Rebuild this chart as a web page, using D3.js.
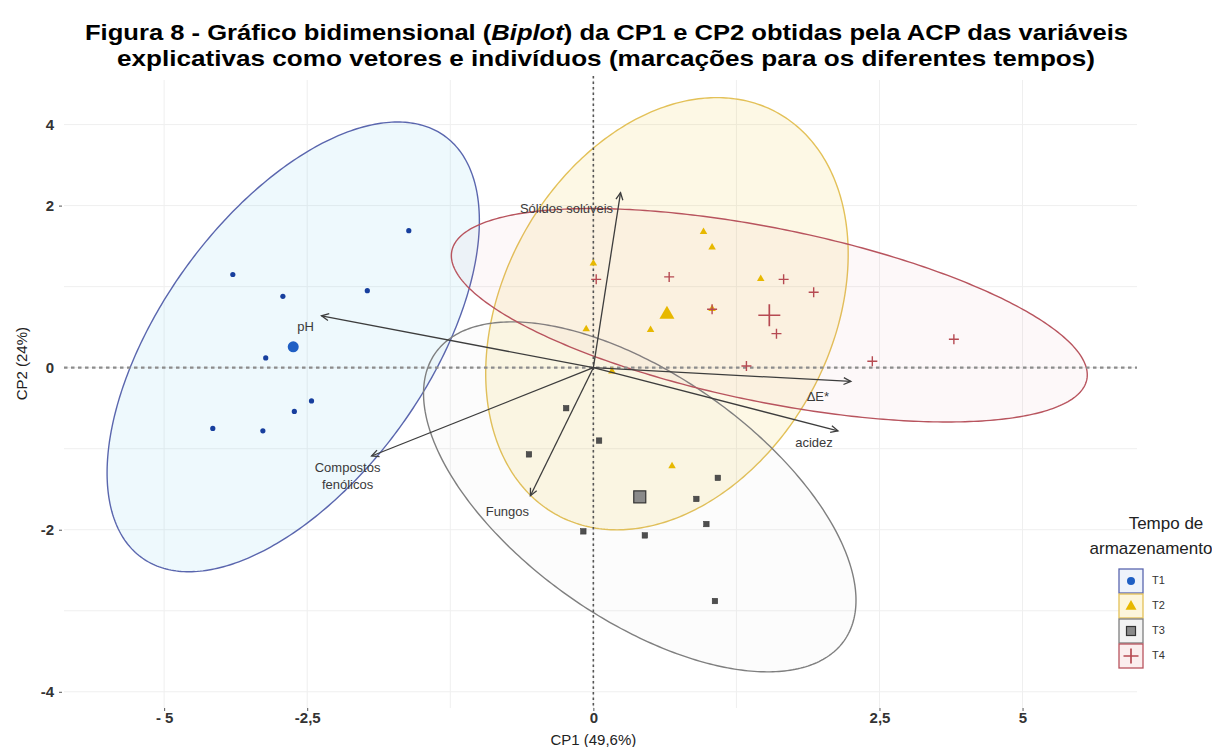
<!DOCTYPE html>
<html>
<head>
<meta charset="utf-8">
<script src="https://cdn.jsdelivr.net/npm/d3@7"></script>
<style>
  body { margin: 0; background: #fff; }
  svg { display: block; font-family: "Liberation Sans", Arial, sans-serif; }
</style>
</head>
<body>
<svg id="chart" width="1212" height="747"></svg>
<script>
// ---- Data: PCA scores of the individuals, by storage time ----
const groups = ["T1", "T2", "T3", "T4"];

const t1CP1 = [-1.29, -2.52, -2.17, -1.58, -2.29, -1.97, -2.09, -2.66, -2.31];
const t1CP2 = [ 1.69,  1.15,  0.88,  0.95,  0.12, -0.41, -0.54, -0.75, -0.78];

const t2CP1 = [0.77, 0.83, 0.00, 1.17, -0.05, 0.40,  0.13,  0.55, 0.83];
const t2CP2 = [1.68, 1.49, 1.29, 1.10,  0.48, 0.47, -0.04, -1.21, 0.73];

const t3CP1 = [-0.19,  0.04, -0.45,  0.87,  0.72,  0.79, -0.07,  0.36,  0.85];
const t3CP2 = [-0.50, -0.90, -1.07, -1.36, -1.62, -1.93, -2.02, -2.07, -2.88];

const t4CP1 = [0.02, 0.53, 0.83, 1.33, 1.54, 1.28, 1.07, 1.95, 2.52];
const t4CP2 = [1.09, 1.12, 0.72, 1.09, 0.93, 0.42, 0.02, 0.08, 0.35];

// ---- Data: loadings of the explanatory variables (vectors) ----
const varNames = ["pH", "Sólidos solúveis", "ΔE*", "acidez", "Fungos", "Compostos fenólicos"];
const varCP1 = [-1.90, 0.19,  1.80,  1.71, -0.44, -1.55];
const varCP2 = [ 0.64, 2.16, -0.17, -0.78, -1.58, -1.09];

// ---- Axis ticks ----
const xTickValues = [-3, -2, 0, 2, 3];
const xTickLabels = ["- 5", "-2,5", "0", "2,5", "5"];
const yTickValues = [3, 2, 0, -2, -4];
const yTickLabels = ["4", "2", "0", "-2", "-4"];
const xGrid = [-3, -2, -1, 0, 1, 2, 3];
const yGrid = [-4, -3, -2, -1, 0, 1, 2, 3];

const titleLine1 = ["Figura 8 - Gráfico bidimensional (", "Biplot", ") da CP1 e CP2 obtidas pela ACP das variáveis"];
const titleLine2 = "explicativas como vetores e indivíduos (marcações para os diferentes tempos)";
const xTitle = "CP1 (49,6%)";
const yTitle = "CP2 (24%)";
const legendTitle = ["Tempo de", "armazenamento"];

// ---- Styles ----
const style = {
  T1: { point: "#173f9e", stroke: "#5a66ae", fill: "#55c0ec", fillOpacity: 0.10, shape: "circle" },
  T2: { point: "#E7B800", stroke: "#e3c158", fill: "#E7B800", fillOpacity: 0.10, shape: "triangle" },
  T3: { point: "#4f4f4f", stroke: "#7f7f7f", fill: "#9a9a9a", fillOpacity: 0.03, shape: "square" },
  T4: { point: "#b64a52", stroke: "#b8545e", fill: "#e07b80", fillOpacity: 0.05, shape: "cross" }
};
const labelOffset = {
  "pH": [-16, 12],
  "Sólidos solúveis": [-54, 17],
  "ΔE*": [-33, 16],
  "acidez": [-24, 13],
  "Fungos": [-23, 17],
  "Compostos fenólicos": [-24, 13]
};

const svg = d3.select("#chart");
const panel = { left: 64, right: 1137, top: 80, bottom: 708 };

const x = d3.scaleLinear().domain([-3.7, 3.8]).range([panel.left, panel.right]);
const y = d3.scaleLinear().domain([-4.2, 3.55]).range([panel.bottom, panel.top]);

const series = {
  T1: d3.zip(t1CP1, t1CP2),
  T2: d3.zip(t2CP1, t2CP2),
  T3: d3.zip(t3CP1, t3CP2),
  T4: d3.zip(t4CP1, t4CP2)
};

// ---- Grid ----
const grid = svg.append("g");
grid.selectAll(".gx").data(xGrid).join("line")
  .attr("x1", d => x(d)).attr("x2", d => x(d))
  .attr("y1", panel.top).attr("y2", panel.bottom)
  .attr("stroke", "#efefef").attr("stroke-width", 1);
grid.selectAll(".gy").data(yGrid).join("line")
  .attr("y1", d => y(d)).attr("y2", d => y(d))
  .attr("x1", panel.left).attr("x2", panel.right)
  .attr("stroke", "#efefef").attr("stroke-width", 1);

// ---- Normal-theory 95% ellipses (as in ggplot2::stat_ellipse) ----
function ellipsePath(pts, level) {
  const n = pts.length;
  const mx = d3.mean(pts, p => p[0]), my = d3.mean(pts, p => p[1]);
  let sxx = 0, syy = 0, sxy = 0;
  pts.forEach(p => {
    sxx += (p[0] - mx) ** 2; syy += (p[1] - my) ** 2; sxy += (p[0] - mx) * (p[1] - my);
  });
  sxx /= (n - 1); syy /= (n - 1); sxy /= (n - 1);
  const d2 = n - 1;
  const fq = d2 / 2 * (Math.pow(1 - level, -2 / d2) - 1); // qf(level, 2, n-1)
  const r = Math.sqrt(2 * fq);
  const a = Math.sqrt(sxx), b = sxy / a, c = Math.sqrt(syy - b * b);
  const out = d3.range(0, 361).map(i => {
    const t = i / 360 * 2 * Math.PI;
    const u = Math.cos(t), v = Math.sin(t);
    return [x(mx + r * u * a), y(my + r * (u * b + v * c))];
  });
  return d3.line()(out) + "Z";
}

const ell = svg.append("g");
groups.forEach(g => {
  ell.append("path")
    .attr("d", ellipsePath(series[g], 0.95))
    .attr("fill", style[g].fill).attr("fill-opacity", style[g].fillOpacity)
    .attr("stroke", style[g].stroke).attr("stroke-width", 1.4);
});

// ---- Zero reference lines ----
svg.append("line")
  .attr("x1", panel.left).attr("x2", panel.right)
  .attr("y1", y(0)).attr("y2", y(0))
  .attr("stroke", "#8c8c8c").attr("stroke-width", 2.4).attr("stroke-dasharray", "3.5,3.5");
svg.append("line")
  .attr("x1", x(0)).attr("x2", x(0))
  .attr("y1", panel.top - 4).attr("y2", panel.bottom)
  .attr("stroke", "#555").attr("stroke-width", 1.6).attr("stroke-dasharray", "2.5,3");

// ---- Markers ----
function marker(sel, shape, size, color) {
  if (shape === "circle") {
    sel.append("circle").attr("r", size / 2).attr("fill", color);
  } else if (shape === "triangle") {
    const h = size * 0.87;
    sel.append("path")
      .attr("d", `M0,${-h * 0.62}L${size / 2},${h * 0.38}L${-size / 2},${h * 0.38}Z`)
      .attr("fill", color);
  } else if (shape === "square") {
    sel.append("rect").attr("x", -size / 2).attr("y", -size / 2)
      .attr("width", size).attr("height", size)
      .attr("fill", color).attr("stroke", "#333").attr("stroke-width", size > 8 ? 1.2 : 0.5);
  } else if (shape === "cross") {
    const s = size / 2;
    sel.append("path").attr("d", `M${-s},0H${s}M0,${-s}V${s}`)
      .attr("stroke", color).attr("stroke-width", size > 14 ? 1.7 : 1.4).attr("fill", "none");
  }
}

const smallSize = { circle: 5.2, triangle: 7.5, square: 5.5, cross: 10 };
const bigSize = { circle: 11, triangle: 15, square: 12, cross: 22 };

const pts = svg.append("g");
groups.forEach(g => {
  const st = style[g];
  series[g].forEach(p => {
    const m = pts.append("g").attr("transform", `translate(${x(p[0])},${y(p[1])})`);
    marker(m, st.shape, smallSize[st.shape], st.point);
  });
  // group mean point
  const cx = d3.mean(series[g], p => p[0]), cy = d3.mean(series[g], p => p[1]);
  const m = pts.append("g").attr("transform", `translate(${x(cx)},${y(cy)})`);
  const bigColor = g === "T1" ? "#1f5fc4" : g === "T3" ? "#8a8a8a" : st.point;
  marker(m, st.shape, bigSize[st.shape], bigColor);
});

// ---- Variable vectors ----
const vec = svg.append("g");
varNames.forEach((name, i) => {
  const x0 = x(0), y0 = y(0), x1 = x(varCP1[i]), y1 = y(varCP2[i]);
  vec.append("line").attr("x1", x0).attr("y1", y0).attr("x2", x1).attr("y2", y1)
    .attr("stroke", "#3d3d3d").attr("stroke-width", 1.3);
  const ang = Math.atan2(y1 - y0, x1 - x0);
  const len = 8, spread = Math.PI / 7;
  const h1 = [x1 - len * Math.cos(ang - spread), y1 - len * Math.sin(ang - spread)];
  const h2 = [x1 - len * Math.cos(ang + spread), y1 - len * Math.sin(ang + spread)];
  vec.append("path")
    .attr("d", `M${h1[0]},${h1[1]}L${x1},${y1}L${h2[0]},${h2[1]}`)
    .attr("fill", "none").attr("stroke", "#3d3d3d").attr("stroke-width", 1.3);

  const off = labelOffset[name];
  const words = name === "Compostos fenólicos" ? ["Compostos", "fenólicos"] : [name];
  words.forEach((w, k) => {
    vec.append("text")
      .attr("x", x1 + off[0]).attr("y", y1 + off[1] + k * 17)
      .attr("text-anchor", "middle").attr("dominant-baseline", "middle")
      .attr("font-size", 13).attr("fill", "#3a3a3a")
      .text(w);
  });
});

// ---- Axes ----
const xAxis = svg.append("g").attr("transform", `translate(0,${panel.bottom})`)
  .call(d3.axisBottom(x).tickValues(xTickValues)
    .tickFormat((d, i) => xTickLabels[i]).tickSize(3).tickPadding(1));
xAxis.select(".domain").remove();
xAxis.selectAll("line").attr("stroke", "#555");
xAxis.selectAll("text").attr("font-size", 15).attr("font-weight", "bold")
  .attr("fill", "#333").attr("font-family", "Liberation Sans, Arial, sans-serif");

const yAxis = svg.append("g").attr("transform", `translate(${panel.left - 2},0)`)
  .call(d3.axisLeft(y).tickValues(yTickValues)
    .tickFormat((d, i) => yTickLabels[i]).tickSize(3).tickPadding(5));
yAxis.select(".domain").remove();
yAxis.selectAll("line").attr("stroke", "#555");
yAxis.selectAll(".tick").filter(d => d === 3 || d === 0).select("line").remove();
yAxis.selectAll("text").attr("font-size", 15).attr("font-weight", "bold")
  .attr("fill", "#333").attr("font-family", "Liberation Sans, Arial, sans-serif");

svg.append("text").attr("x", x(0)).attr("y", 745)
  .attr("text-anchor", "middle").attr("font-size", 15).attr("fill", "#222")
  .text(xTitle);
svg.append("text").attr("transform", `translate(27,${y(0) - 4}) rotate(-90)`)
  .attr("text-anchor", "middle").attr("font-size", 15).attr("fill", "#222")
  .text(yTitle);

// ---- Title ----
const t1 = svg.append("text").attr("x", 606.5).attr("y", 40)
  .attr("text-anchor", "middle").attr("font-size", 22).attr("font-weight", "bold").attr("fill", "#000")
  .attr("textLength", 1043).attr("lengthAdjust", "spacingAndGlyphs");
titleLine1.forEach((s, i) => t1.append("tspan").attr("font-style", i === 1 ? "italic" : "normal").text(s));
svg.append("text").attr("x", 606).attr("y", 66)
  .attr("text-anchor", "middle").attr("font-size", 22).attr("font-weight", "bold").attr("fill", "#000")
  .attr("textLength", 978).attr("lengthAdjust", "spacingAndGlyphs")
  .text(titleLine2);

// ---- Legend ----
const lg = svg.append("g");
lg.append("text").attr("x", 1166).attr("y", 529).attr("text-anchor", "middle")
  .attr("font-size", 17).attr("fill", "#222").text(legendTitle[0]);
lg.append("text").attr("x", 1151).attr("y", 554).attr("text-anchor", "middle")
  .attr("font-size", 17).attr("fill", "#222").text(legendTitle[1]);
const keyFill = { T1: "#eef3fb", T2: "#fdf6dc", T3: "#f3f3f3", T4: "#fbeeee" };
const keySize = { circle: 8, triangle: 11, square: 9, cross: 15 };
groups.forEach((g, i) => {
  const cy = 581 + i * 25;
  lg.append("rect").attr("x", 1119).attr("y", cy - 12).attr("width", 24).attr("height", 24)
    .attr("fill", keyFill[g]).attr("stroke", style[g].stroke).attr("stroke-width", 1.3);
  const m = lg.append("g").attr("transform", `translate(1131,${cy})`);
  const col = g === "T1" ? "#1f5fc4" : g === "T3" ? "#8a8a8a" : style[g].point;
  marker(m, style[g].shape, keySize[style[g].shape], col);
  lg.append("text").attr("x", 1152).attr("y", cy).attr("dominant-baseline", "middle")
    .attr("font-size", 11).attr("fill", "#333").text(g);
});
</script>
</body>
</html>
